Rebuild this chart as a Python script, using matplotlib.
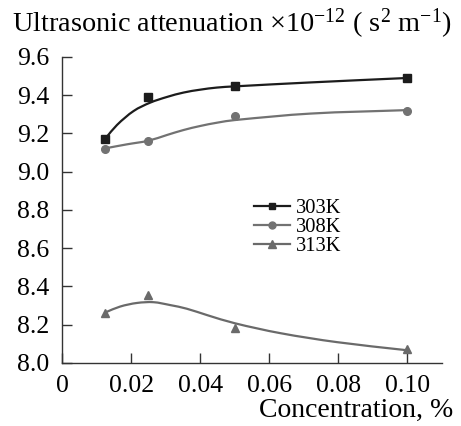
import numpy as np
import matplotlib
matplotlib.use("Agg")
import matplotlib.pyplot as plt
from matplotlib.path import Path
from matplotlib.patches import PathPatch
from matplotlib.lines import Line2D

plt.rcParams["font.family"] = ["Liberation Serif", "DejaVu Serif"]
plt.rcParams["mathtext.fontset"] = "custom"
plt.rcParams["mathtext.rm"] = "Liberation Serif"
plt.rcParams["mathtext.it"] = "Liberation Serif:italic"

# measured points
conc = [0.0125, 0.025, 0.05, 0.1]
att_303 = [9.17, 9.39, 9.45, 9.49]
att_308 = [9.12, 9.16, 9.29, 9.32]
att_313 = [8.26, 8.355, 8.18, 8.07]

# trend curves
curve_x_303 = [0.0125, 0.0159, 0.0207, 0.0255, 0.0304, 0.0352, 0.040, 0.0448,
               0.0497, 0.072, 0.0997]
curve_y_303 = [9.172, 9.244, 9.317, 9.361, 9.391, 9.414, 9.429, 9.440,
               9.446, 9.467, 9.49]
curve_x_308 = [0.0125, 0.0188, 0.025, 0.0304, 0.0352, 0.040, 0.0448, 0.050,
               0.072, 0.0997]
curve_y_308 = [9.122, 9.143, 9.162, 9.192, 9.218, 9.239, 9.256, 9.270,
               9.304, 9.322]
curve_x_313 = [0.0125, 0.0168, 0.0217, 0.0265, 0.0313, 0.0361, 0.0419, 0.050,
               0.0632, 0.0796, 0.0997]
curve_y_313 = [8.263, 8.294, 8.313, 8.317, 8.302, 8.283, 8.250, 8.207,
               8.155, 8.108, 8.066]

labels = ["303K", "308K", "313K"]
x_ticks = [0, 0.02, 0.04, 0.06, 0.08, 0.10]
x_tick_labels = ["0", "0.02", "0.04", "0.06", "0.08", "0.10"]
y_ticks = [8.0, 8.2, 8.4, 8.6, 8.8, 9.0, 9.2, 9.4, 9.6]


def smooth_path(xs, ys):
    """ Cubic hermite (in x) through the curve points, as bezier segments"""
    x = np.asarray(xs, float)
    y = np.asarray(ys, float)
    n = len(x)
    m = np.zeros(n)
    m[0] = (y[1] - y[0]) / (x[1] - x[0])
    m[-1] = (y[-1] - y[-2]) / (x[-1] - x[-2])
    for i in range(1, n - 1):
        m[i] = (y[i + 1] - y[i - 1]) / (x[i + 1] - x[i - 1])
    verts = [(x[0], y[0])]
    codes = [Path.MOVETO]
    for i in range(n - 1):
        h = x[i + 1] - x[i]
        verts += [(x[i] + h / 3, y[i] + m[i] * h / 3),
                  (x[i + 1] - h / 3, y[i + 1] - m[i + 1] * h / 3),
                  (x[i + 1], y[i + 1])]
        codes += [Path.CURVE4] * 3
    return Path(verts, codes)


fig = plt.figure(figsize=(4.61, 4.26), dpi=100)
ax = fig.add_axes([0.1345, 0.1484, 0.8243, 0.7178])

c303 = "#1c1c1c"
c308 = "#727272"
c313 = "#6a6a6a"

for cx, cy, col in [(curve_x_303, curve_y_303, c303),
                    (curve_x_308, curve_y_308, c308),
                    (curve_x_313, curve_y_313, c313)]:
    ax.add_patch(PathPatch(smooth_path(cx, cy), fc="none", ec=col, lw=1.6))

ax.plot(conc, att_303, ls="none", marker="s", ms=5.5, color=c303)
ax.plot(conc, att_308, ls="none", marker="o", ms=5.5, color=c308)
ax.plot(conc, att_313, ls="none", marker="^", ms=6, color=c313)

ax.set_xlim(0, 0.110)
ax.set_ylim(8.0, 9.6)
ax.set_xticks(x_ticks)
ax.set_xticklabels(x_tick_labels)
ax.set_yticks(y_ticks)
ax.set_yticklabels([f"{v:.1f}" for v in y_ticks])
ax.tick_params(direction="in", length=7, width=1, labelsize=18.5, color="#333333")
ax.tick_params(axis="x", pad=9)
ax.tick_params(axis="y", pad=9)
for s in ["top", "right"]:
    ax.spines[s].set_visible(False)
for s in ["left", "bottom"]:
    ax.spines[s].set_color("#333333")
    ax.spines[s].set_linewidth(1)

handles = [Line2D([], [], color=c303, marker="s", ms=5, lw=1.6),
           Line2D([], [], color=c308, marker="o", ms=5, lw=1.6),
           Line2D([], [], color=c313, marker="^", ms=5.5, lw=1.6)]
ax.legend(handles, labels, loc="upper left", bbox_to_anchor=(254 / 461, 1 - 199 / 426),
          bbox_transform=fig.transFigure, frameon=False, fontsize=14.8,
          handlelength=1.75, handletextpad=0.3, labelspacing=-0.02, borderpad=0,
          borderaxespad=0)

fig.text(12 / 461, 1 - 24 / 426,
         r"Ultrasonic attenuation $\times$10$^{-12}$ ( s$^2$ m$^{-1}$)",
         fontsize=20.3, ha="left", va="center")
fig.text(453 / 461, 1 - 410 / 426, "Concentration, %", fontsize=20,
         ha="right", va="center")

fig.savefig("out.png", dpi=100)
